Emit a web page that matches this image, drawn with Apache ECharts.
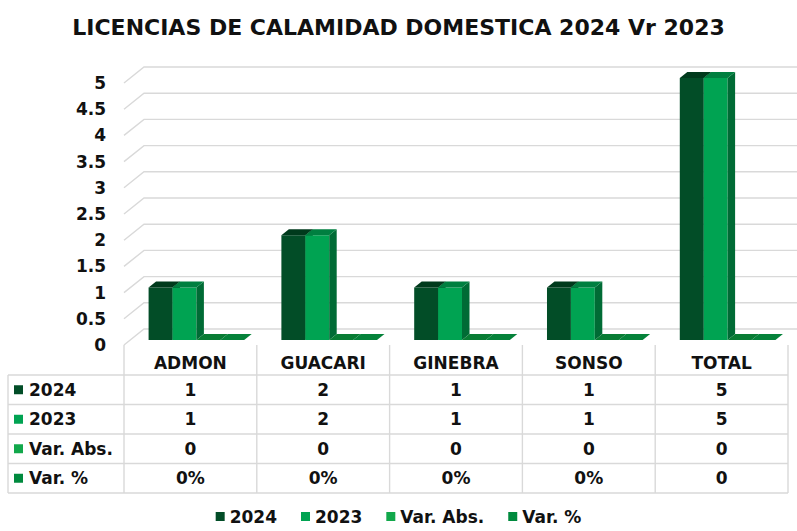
<!DOCTYPE html>
<html>
<head>
<meta charset="utf-8">
<script src="https://cdn.jsdelivr.net/npm/echarts@6/dist/echarts.min.js"></script>
<style>
  html, body { margin: 0; padding: 0; background: #ffffff; }
  #chart { width: 797px; height: 531px; }
</style>
</head>
<body>
<div id="chart"></div>
<script>
// Licencias por calamidad doméstica, 2024 frente a 2023
const categories = ['ADMON', 'GUACARI', 'GINEBRA', 'SONSO', 'TOTAL'];
const seriesNames = ['2024', '2023', 'Var. Abs.', 'Var. %'];
const values2024 = [1, 2, 1, 1, 5];
const values2023 = [1, 2, 1, 1, 5];
const valuesVarAbs = [0, 0, 0, 0, 0];
const valuesVarPct = [0, 0, 0, 0, 0];
const labelsVarPct = ['0%', '0%', '0%', '0%', '0'];
const yTicks = [0, 0.5, 1, 1.5, 2, 2.5, 3, 3.5, 4, 4.5, 5];

const FONT = '"DejaVu Sans", sans-serif';
const TEXT = '#111111';
const GRID_LINE = '#d9d9d9';

// colours per series: front face, right side, top
const palette = [
  { front: '#024d27', side: '#013b1e', top: '#003a1c' },
  { front: '#00a352', side: '#006b35', top: '#007f40' },
  { front: '#12a84b', side: '#087a33', top: '#087c34' },
  { front: '#008a3e', side: '#006530', top: '#05823a' }
];

// 3D look: wall depth and bar depth, in pixels
const WALL_DX = 20, WALL_DY = -16;
const BAR_FX = 6, BAR_FY = -5;
const BAR_DX = 7.5, BAR_DY = -6;
const BAR_SHARE = 0.18;

const seriesValues = [values2024, values2023, valuesVarAbs, valuesVarPct];

function barRenderer(s) {
  const col = palette[s];
  return function (params, api) {
    const ci = api.value(0);
    const v = api.value(1);
    const top = api.coord([ci, v]);
    const base = api.coord([ci, 0]);
    const bw = api.size([1, 0])[0] * BAR_SHARE;
    const x0 = top[0] - 2 * bw + s * bw + BAR_FX;
    const x1 = x0 + bw;
    const yT = top[1] + BAR_FY;
    const yB = base[1] + BAR_FY;
    const children = [];
    if (yB - yT > 0.5) {
      children.push({
        type: 'rect',
        shape: { x: x0, y: yT, width: bw, height: yB - yT },
        style: { fill: col.front }
      });
      children.push({
        type: 'polygon',
        shape: { points: [[x1, yB], [x1 + BAR_DX, yB + BAR_DY], [x1 + BAR_DX, yT + BAR_DY], [x1, yT]] },
        style: { fill: col.side }
      });
    }
    children.push({
      type: 'polygon',
      shape: { points: [[x0, yT], [x0 + BAR_DX, yT + BAR_DY], [x1 + BAR_DX, yT + BAR_DY], [x1, yT]] },
      style: { fill: col.top }
    });
    return { type: 'group', children: children };
  };
}

// back and side walls: one gridline per tick value
function wallRenderer(params, api) {
  const v = api.value(0);
  const p = api.coord([0, v]);
  const x = params.coordSys.x;
  const xr = params.coordSys.x + params.coordSys.width + WALL_DX;
  return {
    type: 'polyline',
    shape: { points: [[x, p[1]], [x + WALL_DX, p[1] + WALL_DY], [xr, p[1] + WALL_DY]] },
    style: { stroke: GRID_LINE, lineWidth: 1.4, fill: null }
  };
}

const chart = echarts.init(document.getElementById('chart'), null, { renderer: 'svg' });

const series = [{
  type: 'custom',
  name: 'walls',
  silent: true,
  clip: false,
  z: 1,
  renderItem: wallRenderer,
  data: yTicks.map(v => [v])
}];
seriesValues.forEach((vals, s) => {
  series.push({
    type: 'custom',
    name: seriesNames[s],
    clip: false,
    z: 2,
    itemStyle: { color: palette[s].front },
    renderItem: barRenderer(s),
    data: vals.map((v, i) => [i, v])
  });
});

chart.setOption({
  animation: false,
  backgroundColor: '#ffffff',
  title: {
    text: 'LICENCIAS DE CALAMIDAD DOMESTICA 2024 Vr 2023',
    left: 'center',
    top: 11,
    textStyle: { fontFamily: FONT, fontWeight: 'bold', fontSize: 22, color: TEXT }
  },
  legend: {
    data: seriesNames,
    bottom: 1,
    left: 'center',
    icon: 'rect',
    itemWidth: 9,
    itemHeight: 9,
    itemGap: 24,
    textStyle: { fontFamily: FONT, fontWeight: 'bold', fontSize: 17, color: TEXT }
  },
  grid: { left: 124, right: 9, top: 83, bottom: 186 },
  xAxis: {
    type: 'category',
    data: categories,
    axisLine: { show: false },
    axisTick: { show: false },
    axisLabel: {
      margin: 9,
      fontFamily: FONT, fontWeight: 'bold', fontSize: 17, color: TEXT
    }
  },
  yAxis: {
    type: 'value',
    min: 0,
    max: 5,
    interval: 0.5,
    axisLine: { show: false },
    axisTick: { show: false },
    splitLine: { show: false },
    axisLabel: {
      margin: 18,
      fontFamily: FONT, fontWeight: 'bold', fontSize: 17, color: TEXT
    }
  },
  series: series
});

// data table under the plot, aligned on the category axis
function drawTable() {
  const rows = [
    { name: seriesNames[0], color: palette[0].front, cells: values2024.map(String) },
    { name: seriesNames[1], color: palette[1].front, cells: values2023.map(String) },
    { name: seriesNames[2], color: palette[2].front, cells: valuesVarAbs.map(String) },
    { name: seriesNames[3], color: palette[3].front, cells: labelsVarPct }
  ];
  const yBase = chart.convertToPixel({ yAxisIndex: 0 }, 0);
  const c0 = chart.convertToPixel({ xAxisIndex: 0 }, 0);
  const c1 = chart.convertToPixel({ xAxisIndex: 0 }, 1);
  const cw = c1 - c0;
  const left = c0 - cw / 2;
  const right = left + cw * categories.length;
  const tableLeft = 8;
  const headerH = 30;
  const rowH = 29.5;
  const firstRow = yBase + headerH;
  const bottom = firstRow + rowH * rows.length;
  const els = [];
  const line = (x1, y1, x2, y2) => els.push({
    type: 'line', silent: true,
    shape: { x1: x1, y1: y1, x2: x2, y2: y2 },
    style: { stroke: GRID_LINE, lineWidth: 1.4 }
  });
  for (let r = 0; r <= rows.length; r++) {
    const y = firstRow + r * rowH;
    line(tableLeft, y, right, y);
  }
  line(tableLeft, firstRow, tableLeft, bottom);
  for (let i = 0; i <= categories.length; i++) {
    const x = left + i * cw;
    line(x, yBase, x, bottom);
  }
  rows.forEach((row, r) => {
    const yc = firstRow + r * rowH + rowH / 2;
    els.push({
      type: 'rect', silent: true,
      shape: { x: tableLeft + 6, y: yc - 4.5, width: 9, height: 9 },
      style: { fill: row.color }
    });
    els.push({
      type: 'text', silent: true,
      x: tableLeft + 21, y: yc,
      style: {
        text: row.name, fill: TEXT, font: 'bold 17px ' + FONT,
        align: 'left', verticalAlign: 'middle'
      }
    });
    row.cells.forEach((t, i) => {
      els.push({
        type: 'text', silent: true,
        x: left + (i + 0.5) * cw, y: yc,
        style: {
          text: t, fill: TEXT, font: 'bold 17px ' + FONT,
          align: 'center', verticalAlign: 'middle'
        }
      });
    });
  });
  chart.setOption({ graphic: { elements: els } });
}
drawTable();
</script>
</body>
</html>
